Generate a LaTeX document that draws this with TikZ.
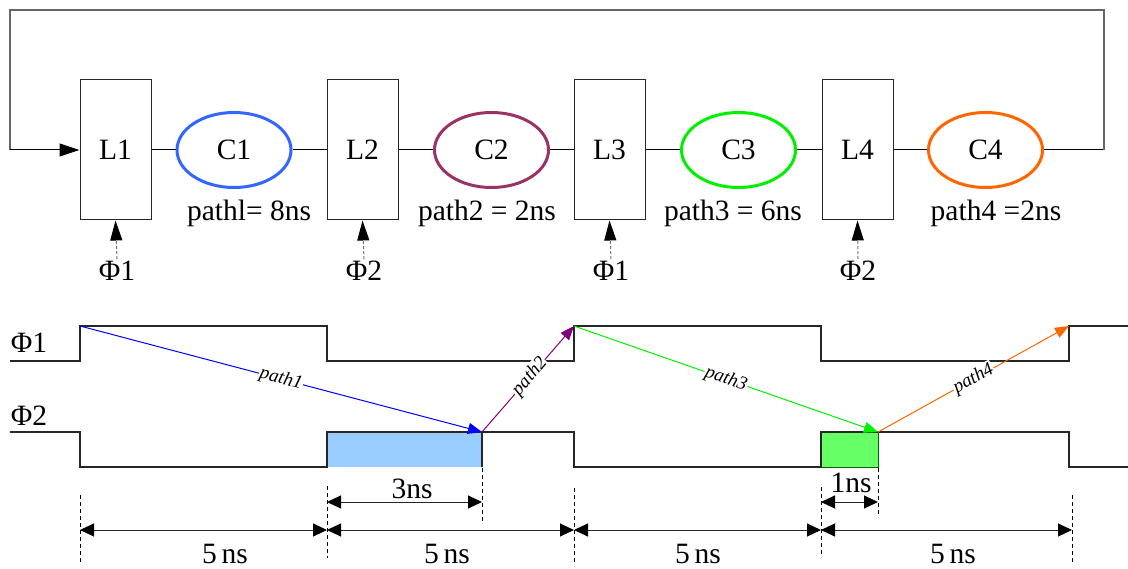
\documentclass[tikz,border=0pt]{standalone}
\usepackage{fontspec}
\setmainfont{Liberation Serif}
\usetikzlibrary{arrows.meta,shapes.geometric}

\definecolor{cOne}{RGB}{51,102,255}
\definecolor{cTwo}{RGB}{153,51,102}
\definecolor{cThree}{RGB}{0,240,0}
\definecolor{cFour}{RGB}{255,102,0}
\definecolor{pathTwo}{RGB}{128,0,128}
\definecolor{pathOne}{RGB}{0,0,255}
\definecolor{fillBlue}{RGB}{153,204,255}
\definecolor{fillGreen}{RGB}{102,255,102}

\newcommand\bigtxt{\fontsize{29.5}{32}\selectfont}
\newcommand\smalltxt{\fontsize{19}{21}\selectfont\itshape}

\begin{document}
\begin{tikzpicture}[x=1pt,y=-1pt,
  latch/.style={draw=black!85, line width=1pt, minimum width=71pt,
    minimum height=140pt, inner sep=0pt, font=\bigtxt},
  logic/.style={ellipse, line width=3pt, minimum width=114pt,
    minimum height=75pt, inner sep=0pt, font=\bigtxt},
  wire/.style={line width=1pt, black},
  loopline/.style={line width=1.4pt, black!60},
  clk/.style={line width=1pt, black!55, dash pattern=on 3pt off 2pt,
    -{Triangle[length=20pt,width=12pt,black]}},
  txt/.style={font=\bigtxt, inner sep=2pt},
  wave/.style={line width=1.3pt, black!85},
  sig/.style={line width=1pt, -{Triangle[length=14pt,width=11pt]}},
  plabel/.style={sloped, fill=white, text=black, inner sep=1pt, font=\smalltxt},
  vmark/.style={line width=1pt, black, dash pattern=on 4pt off 3pt},
  dim/.style={line width=1pt, black!85,
    {Triangle[length=14pt,width=13pt,black]}-{Triangle[length=14pt,width=13pt,black]}}
]
\useasboundingbox (0,0) rectangle (1128,569);

% ---------- pipeline: latches and logic blocks ----------
\node[latch] (L1) at (115.5,150) {L1};
\node[latch] (L2) at (362.5,150) {L2};
\node[latch] (L3) at (609.5,150) {L3};
\node[latch] (L4) at (857.5,150) {L4};

\node[logic, draw=cOne]   (C1) at (234,150)   {C1};
\node[logic, draw=cTwo]   (C2) at (491.5,150) {C2};
\node[logic, draw=cThree] (C3) at (738.5,150) {C3};
\node[logic, draw=cFour]  (C4) at (985.5,150) {C4};

\draw[wire] (L1.east) -- (C1.west);
\draw[wire] (C1.east) -- (L2.west);
\draw[wire] (L2.east) -- (C2.west);
\draw[wire] (C2.east) -- (L3.west);
\draw[wire] (L3.east) -- (C3.west);
\draw[wire] (C3.east) -- (L4.west);
\draw[wire] (L4.east) -- (C4.west);

% feedback from the last stage to the first latch
\coordinate (fbR)  at (1104,150);
\coordinate (fbTR) at (1104,10);
\coordinate (fbTL) at (10,10);
\coordinate (fbL)  at (10,150);
\draw[wire] (C4.east) -- (fbR);
\draw[loopline] (fbR) -- (fbTR) -- (fbTL) -- (fbL);
\draw[wire, -{Triangle[length=20pt,width=13pt]}] (fbL) -- (L1.west);

% clock inputs
\node[txt] (k1) at (117,271) {Φ1};
\node[txt] (k2) at (364,271) {Φ2};
\node[txt] (k3) at (611,271) {Φ1};
\node[txt] (k4) at (858,271) {Φ2};
\draw[clk] (k1.north) -- (L1.south);
\draw[clk] (k2.north) -- (L2.south);
\draw[clk] (k3.north) -- (L3.south);
\draw[clk] (k4.north) -- (L4.south);

% path delays
\node[txt] (d1) at (249,213) {pathl= 8ns};
\node[txt] (d2) at (487,213) {path2 = 2ns};
\node[txt] (d3) at (733,213) {path3 = 6ns};
\node[txt] (d4) at (996,213) {path4 =2ns};

% ---------- timing diagram ----------
\node[txt] (w1) at (29,343) {Φ1};
\node[txt] (w2) at (29,416) {Φ2};

% time borrowed from the next phase
\fill[fillBlue] (327,432) rectangle (482,467);
\filldraw[fill=fillGreen, draw=green!40!black, line width=1pt] (821,432) rectangle (878,467);
\draw[wave] (482,432) -- (482,467);

\draw[wave] (10,361) -- (80,361) -- (80,326) -- (327,326) -- (327,361)
  -- (574,361) -- (574,326) -- (821,326) -- (821,361) -- (1069,361)
  -- (1069,326) -- (1128,326);
\draw[wave] (10,432) -- (80,432) -- (80,467) -- (327,467) -- (327,432)
  -- (574,432) -- (574,467) -- (821,467) -- (821,432) -- (1069,432)
  -- (1069,467) -- (1128,467);

\coordinate (e1) at (80,326);
\coordinate (e2) at (482,432);
\coordinate (e3) at (574,326);
\coordinate (e4) at (878,432);
\coordinate (e5) at (1069,326);
\draw[sig, pathOne] (e1) -- node[plabel] {path1} (e2);
\draw[sig, pathTwo] (e2) -- node[plabel, pos=0.52] {path2} (e3);
\draw[sig, cThree]  (e3) -- node[plabel] {path3} (e4);
\draw[sig, cFour]   (e4) -- node[plabel] {path4} (e5);

% ---------- dimensions ----------
\coordinate (m0t) at (80,495);   \coordinate (m0b) at (80,563);
\coordinate (m1t) at (327,486);  \coordinate (m1b) at (327,558);
\coordinate (m2t) at (482,468);  \coordinate (m2b) at (482,522);
\coordinate (m3t) at (574,488);  \coordinate (m3b) at (574,562);
\coordinate (m4t) at (821,487);  \coordinate (m4b) at (821,557);
\coordinate (m5t) at (878,468);  \coordinate (m5b) at (878,517);
\coordinate (m6t) at (1072,495); \coordinate (m6b) at (1072,563);
\foreach \m in {0,...,6} \draw[vmark] (m\m t) -- (m\m b);

\coordinate (h0) at (80,530);
\coordinate (h1) at (327,530);
\coordinate (h3) at (574,530);
\coordinate (h4) at (821,530);
\coordinate (h6) at (1072,530);
\draw[dim] (h0) -- (h1);
\draw[dim] (h1) -- (h3);
\draw[dim] (h3) -- (h4);
\draw[dim] (h4) -- (h6);

\coordinate (s1) at (327,502);
\coordinate (s2) at (482,502);
\coordinate (s4) at (821,502);
\coordinate (s5) at (878,502);
\draw[dim] (s1) -- (s2);
\draw[dim] (s4) -- (s5);

\node[txt] (n3) at (412,489) {3ns};
\node[txt] (n1) at (851,483) {1ns};
\node[txt] (f1) at (225,554) {5\,ns};
\node[txt] (f2) at (447,554) {5\,ns};
\node[txt] (f3) at (698,554) {5\,ns};
\node[txt] (f4) at (953,554) {5\,ns};
\end{tikzpicture}
\end{document}
